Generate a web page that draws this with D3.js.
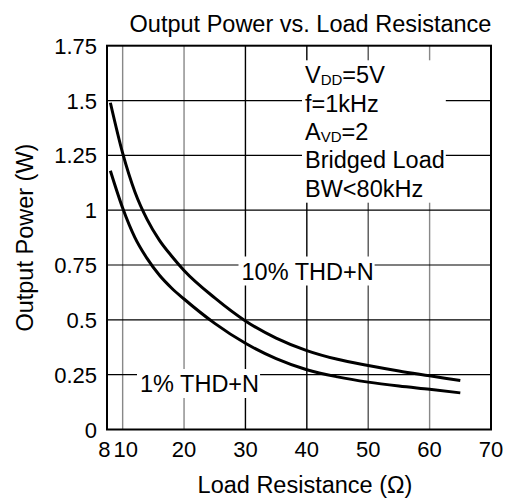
<!DOCTYPE html>
<html>
<head>
<meta charset="utf-8">
<script src="https://cdn.jsdelivr.net/npm/d3@7"></script>
<style>
body { margin: 0; background: #fff; }
svg { display: block; font-family: "Liberation Sans", Arial, sans-serif; }
.curve { fill: none; stroke: #000; stroke-width: 3; stroke-linecap: butt; }
.frame { fill: none; stroke: #000; stroke-width: 2; }
.tick-label { font-size: 22px; }
.label { font-size: 23.5px; }
.sub { font-size: 15px; }
</style>
</head>
<body>
<svg width="516" height="500"></svg>
<script>
// load resistance (ohm) vs output power (W)
const resistance10 = [8, 10, 12, 14, 16, 18, 20, 25, 30, 35, 40, 45, 50, 55, 60, 65]
    , power10 = [1.49, 1.26, 1.083, 0.957, 0.8625, 0.79, 0.725, 0.6, 0.495, 0.417, 0.36, 0.32, 0.292, 0.267, 0.245, 0.223]
    , resistance1 = [8, 10, 12, 14, 16, 18, 20, 25, 30, 35, 40, 45, 50, 55, 60, 65]
    , power1 = [1.18, 1.01, 0.875, 0.779, 0.703, 0.644, 0.595, 0.484, 0.393, 0.323, 0.2725, 0.24, 0.216, 0.198, 0.183, 0.167]
    , xTicks = [8, 10, 20, 30, 40, 50, 60, 70]
    , xGrid = [10, 20, 30, 40, 50, 60]
    , yTicks = [0, 0.25, 0.5, 0.75, 1, 1.25, 1.5, 1.75]
    , yTickLabels = ['0', '0.25', '0.5', '0.75', '1', '1.25', '1.5', '1.75']
    , conditions = [['V', 'DD', '=5V'], ['f=1kHz'], ['A', 'VD', '=2'], ['Bridged Load'], ['BW<80kHz']]

const plotLeft = 107
    , plotRight = 491
    , plotTop = 45.7
    , plotBottom = 429.5
    , scaleX = d3.scaleLinear()
        .domain([7.45, 70])
        .range([plotLeft, plotRight])
    , scaleY = d3.scaleLinear()
        .domain([0, 1.75])
        .range([plotBottom, plotTop])
    , gridColour = v => (v === 30 || v === 40) ? '#000' : v === 50 ? '#555' : '#888'
    , svg = d3.select('svg')

// grid
svg.selectAll('line.grid.x')
    .data(xGrid)
    .join('line')
    .attr('class', 'grid x')
    .attr('x1', scaleX).attr('x2', scaleX)
    .attr('y1', plotBottom).attr('y2', plotTop)
    .attr('stroke', gridColour)
    .attr('stroke-width', 1.4)
svg.selectAll('line.grid.y')
    .data(yTicks.slice(1, -1))
    .join('line')
    .attr('class', 'grid y')
    .attr('x1', plotLeft).attr('x2', plotRight)
    .attr('y1', scaleY).attr('y2', scaleY)
    .attr('stroke', '#000')
    .attr('stroke-width', 1.2)

// labels inside the plot sit on white boxes that hide the grid
const boxLayer = svg.append('g')
    , curveLayer = svg.append('g')
    , textLayer = svg.append('g')

const block = textLayer.append('text')
    .attr('class', 'label')
block.selectAll('tspan.line')
    .data(conditions)
    .join('tspan')
    .attr('class', 'line')
    .attr('x', 305)
    .attr('y', (d, i) => 83.3 + i * 28.35)
    .each(function (parts) {
        const t = d3.select(this)
        t.append('tspan').text(parts[0])
        if (parts.length > 1) {
            t.append('tspan').attr('class', 'sub').attr('dy', 2).text(parts[1])
            t.append('tspan').attr('dy', -2).text(parts[2])
        }
    })

const label10 = textLayer.append('text')
    .attr('class', 'label')
    .attr('x', 241.5)
    .attr('y', 279.5)
    .text('10% THD+N')
const label1 = textLayer.append('text')
    .attr('class', 'label')
    .attr('x', 140)
    .attr('y', 392)
    .text('1% THD+N')

;[block, label10, label1].forEach(t => {
    const b = t.node().getBBox()
    boxLayer.append('rect')
        .attr('x', b.x - 3).attr('y', b.y - 2)
        .attr('width', b.width + 4).attr('height', b.height + 3)
        .attr('fill', '#fff')
})

// curves
const line = d3.line()
    .x(d => scaleX(d[0]))
    .y(d => scaleY(d[1]))
    .curve(d3.curveMonotoneX)
curveLayer.append('path')
    .attr('class', 'curve')
    .attr('d', line(d3.zip(resistance10, power10)))
curveLayer.append('path')
    .attr('class', 'curve')
    .attr('d', line(d3.zip(resistance1, power1)))

// frame
svg.append('rect')
    .attr('class', 'frame')
    .attr('x', plotLeft).attr('y', plotTop)
    .attr('width', plotRight - plotLeft)
    .attr('height', plotBottom - plotTop)

// tick labels; "8" is pushed left so it clears "10"
svg.selectAll('text.x-tick')
    .data(xTicks)
    .join('text')
    .attr('class', 'x-tick tick-label')
    .attr('x', scaleX)
    .attr('dx', d => d === 10 ? 3 : 0)
    .attr('y', 457)
    .attr('text-anchor', d => d === 8 ? 'end' : 'middle')
    .text(d => d)
svg.selectAll('text.y-tick')
    .data(yTicks)
    .join('text')
    .attr('class', 'y-tick tick-label')
    .attr('x', 97)
    .attr('y', d => scaleY(d) + 8)
    .attr('text-anchor', 'end')
    .text((d, i) => yTickLabels[i])

// titles
svg.append('text')
    .attr('class', 'label')
    .attr('x', 310.5).attr('y', 31.5)
    .attr('text-anchor', 'middle')
    .text('Output Power vs. Load Resistance')
svg.append('text')
    .attr('class', 'label')
    .attr('x', 305).attr('y', 493)
    .attr('text-anchor', 'middle')
    .text('Load Resistance (Ω)')
svg.append('text')
    .attr('class', 'label')
    .attr('text-anchor', 'middle')
    .attr('transform', `translate(${[33, (plotTop + plotBottom) / 2]}) rotate(-90)`)
    .text('Output Power (W)')
</script>
</body>
</html>
